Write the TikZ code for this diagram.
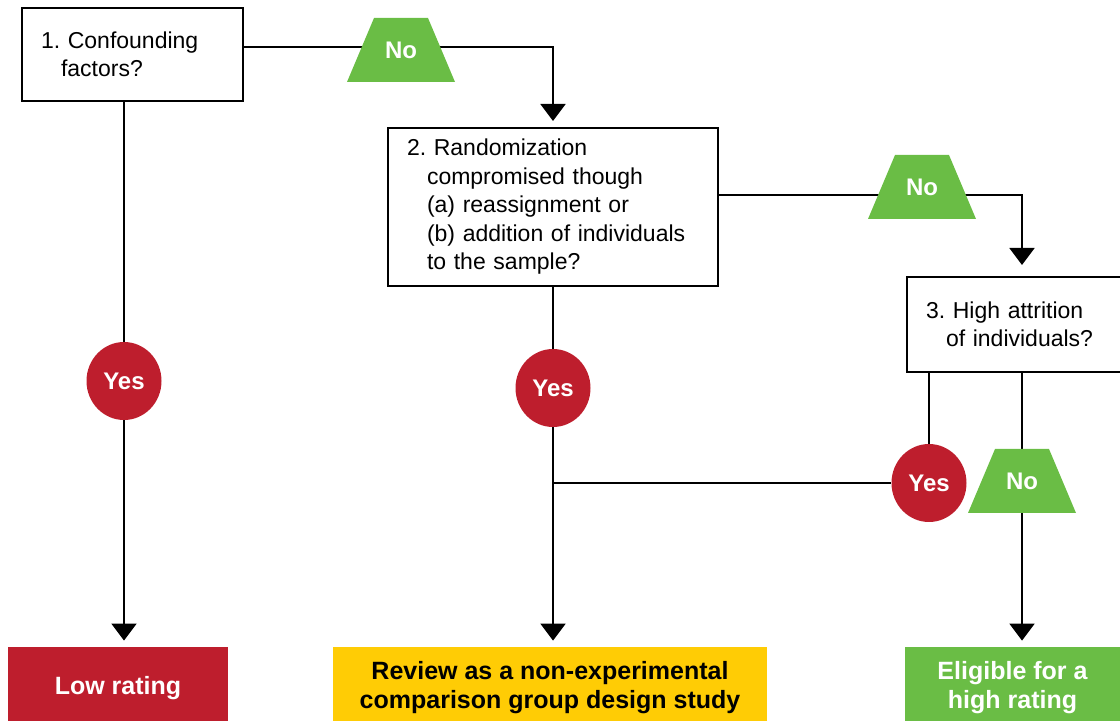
\documentclass[tikz,border=0pt]{standalone}
\usepackage{fontspec}
\setmainfont{Liberation Sans}
\usepackage{tikz}
\usetikzlibrary{positioning,arrows.meta,shapes.geometric}
\pgfdeclarelayer{bg}
\pgfsetlayers{bg,main}
\definecolor{yesred}{HTML}{BE1E2D}
\definecolor{nogreen}{HTML}{6ABD45}
\definecolor{revyellow}{HTML}{FFCC05}
\newcommand{\hang}{\hspace*{10pt}}
\frenchspacing

\begin{document}
\begin{tikzpicture}[
  x=0.5pt, y=-0.5pt,
  qbox/.style={draw, line width=1pt, align=left, inner xsep=9.5pt, inner ysep=0pt, font=\fontsize{11.5}{14.25}\selectfont},
  yes/.style={ellipse, fill=yesred, text=white, inner sep=0pt, minimum width=37.5pt, minimum height=39pt, font=\bfseries\fontsize{12}{14}\selectfont},
  no/.style={text=white, inner sep=0pt, minimum width=54pt, minimum height=32pt, font=\bfseries\fontsize{12}{14}\selectfont,
    path picture={\fill[nogreen] (path picture bounding box.south west) -- (path picture bounding box.south east)
      -- ([xshift=-13.5pt]path picture bounding box.north east) -- ([xshift=13.5pt]path picture bounding box.north west) -- cycle;}},
  outcome/.style={align=center, inner sep=0pt, minimum height=41pt, font=\bfseries\fontsize{12.5}{14.5}\selectfont},
  link/.style={line width=1pt},
  arr/.style={link, -{Triangle[length=8.5pt,width=12.5pt]}, shorten >=3pt}
]
\useasboundingbox (0,0) rectangle (1120,721);
\clip (0,0) rectangle (1120,721);

% questions
\node[qbox, minimum width=110.5pt, minimum height=46.5pt, text width=91.5pt] (q1) at (132.5,54.5) {1. Confounding\\\hang factors?};
\node[qbox, minimum width=165pt, minimum height=79pt, text width=146pt] (q2) at (553,207) {2. Randomization\\\hang compromised though\\\hang (a) reassignment or\\\hang (b) addition of individuals\\\hang to the sample?};
\node[qbox, minimum width=111.5pt, minimum height=47.5pt, text width=92.5pt] (q3) at (1018.5,324.5) {3. High attrition\\\hang of individuals?};

% answers
\node[no] (no1) at (401,50) {No};
\node[no] (no2) at (922,187) {No};
\node[no] (no3) at (1022,481) {No};
\node[yes] (yes1) at (124,381) {Yes};
\node[yes] (yes2) at (553,388) {Yes};
\node[yes] (yes3) at (929,483) {Yes};

% outcomes
\node[outcome, fill=yesred, text=white, minimum width=110pt] (low) at (118,688) {Low rating};
\node[outcome, fill=revyellow, minimum width=217pt] (rev) at (550,688) {Review as a non-experimental\\comparison group design study};
\node[outcome, fill=nogreen, text=white, minimum width=107.5pt] (elig) at (1012.5,688) {Eligible for a\\high rating};

\begin{pgfonlayer}{bg}
\draw[arr] ([yshift=3.5pt]q1.east) -| (q2.north);
\draw[arr] (q1.south -| yes1) -- (yes1 |- low.north);
\draw[arr] (q2.south) -- (q2.south |- rev.north);
\draw[arr, shorten >=5.5pt] ([yshift=6pt]q2.east) -| (q3.north -| no3);
\draw[link] (q3.south -| yes3) -- (yes3) -- (yes3 -| q2.south);
\draw[arr] (q3.south -| no3) -- (no3 |- elig.north);
\end{pgfonlayer}
\end{tikzpicture}
\end{document}
